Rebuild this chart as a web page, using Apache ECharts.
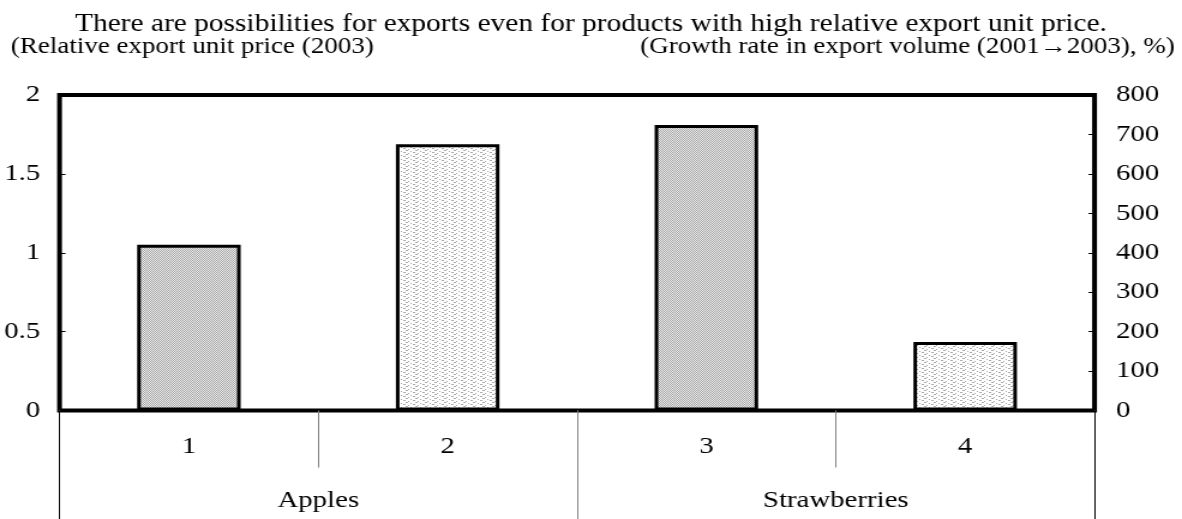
<!DOCTYPE html>
<html>
<head>
<meta charset="utf-8">
<script src="https://cdn.jsdelivr.net/npm/echarts@6/dist/echarts.min.js"></script>
<style>
html, body { margin: 0; padding: 0; background: #fff; overflow: hidden; }
/* the source picture is a bit wider than tall, so draw narrow and stretch */
#main { width: 985px; height: 519px; transform: scaleX(1.2); transform-origin: 0 0; }
</style>
</head>
<body>
<div id="main"></div>
<script>
// data
var items = ['1', '2', '3', '4'];
var groups = ['Apples', 'Strawberries'];
var unitPrice = [1.05, '-', 1.81, '-'];
var growthRate = ['-', 675, '-', 174];

var font = '"Liberation Serif", "Times New Roman", serif';

// dense dotted fill
function densePattern() {
	var c = document.createElement('canvas');
	c.width = 4; c.height = 4;
	var ctx = c.getContext('2d');
	ctx.fillStyle = '#ececec';
	ctx.fillRect(0, 0, 4, 4);
	ctx.fillStyle = '#a4a4a4';
	for (var y = 0; y < 4; y++) {
		for (var x = 0; x < 4; x++) {
			if ((x + y) % 2 === 0) ctx.fillRect(x, y, 1, 1);
		}
	}
	return c;
}

// sparse dotted fill
function sparsePattern() {
	var c = document.createElement('canvas');
	c.width = 8; c.height = 4;
	var ctx = c.getContext('2d');
	ctx.fillStyle = '#ffffff';
	ctx.fillRect(0, 0, 8, 4);
	ctx.fillStyle = '#a8a8a8';
	ctx.fillRect(0, 0, 2, 1);
	ctx.fillRect(4, 1, 1, 1);
	ctx.fillRect(2, 2, 2, 1);
	ctx.fillRect(6, 3, 1, 1);
	return c;
}

var chart = echarts.init(document.getElementById('main'));

var option = {
	backgroundColor: '#fff',
	animation: false,
	title: [{
		text: 'There are possibilities for exports even for products with high relative export unit price.',
		left: 'center',
		top: 7,
		textStyle: { fontFamily: font, fontSize: 24.5, fontWeight: 'normal', color: '#000' }
	}, {
		text: '(Relative export unit price (2003)',
		left: 4,
		top: 31,
		textStyle: { fontFamily: font, fontSize: 22.5, fontWeight: 'normal', color: '#000' }
	}, {
		text: '(Growth rate in export volume (2001\u21922003), %)',
		right: 1,
		top: 31,
		textStyle: { fontFamily: font, fontSize: 22.5, fontWeight: 'normal', color: '#000' }
	}],
	grid: {
		left: 49.6,
		right: 72.9,
		top: 95,
		bottom: 108.5,
		show: true,
		borderColor: '#000',
		borderWidth: 4,
		backgroundColor: 'transparent'
	},
	xAxis: [{
		type: 'category',
		data: items,
		position: 'bottom',
		axisLine: { show: false },
		axisTick: { show: true, length: 57, lineStyle: { color: '#808080', width: 1 } },
		axisLabel: { margin: 24, fontFamily: font, fontSize: 24, color: '#000' }
	}, {
		type: 'category',
		data: groups,
		position: 'bottom',
		axisLine: { show: false },
		axisTick: { show: true, length: 110, lineStyle: { color: '#808080', width: 1 } },
		axisLabel: { margin: 78, fontFamily: font, fontSize: 24, color: '#000' }
	}, {
		type: 'category',
		data: groups,
		position: 'bottom',
		axisLine: { show: false },
		axisTick: {
			show: true, length: 110,
			interval: function (i) { return i === 1; },
			lineStyle: { color: '#000', width: 1 }
		},
		axisLabel: { show: false }
	}],
	yAxis: [{
		type: 'value',
		min: 0, max: 2, interval: 0.5,
		position: 'left',
		axisLine: { show: false },
		axisTick: { show: true, inside: true, length: 5, lineStyle: { color: '#000' } },
		splitLine: { show: false },
		axisLabel: { margin: 16, fontFamily: font, fontSize: 24, color: '#000' }
	}, {
		type: 'value',
		min: 0, max: 800, interval: 100,
		position: 'right',
		axisLine: { show: false },
		axisTick: { show: true, inside: true, length: 5, lineStyle: { color: '#000' } },
		splitLine: { show: false },
		axisLabel: { margin: 18, fontFamily: font, fontSize: 24, color: '#000' }
	}],
	series: [{
		name: 'Relative export unit price',
		type: 'bar',
		xAxisIndex: 0,
		yAxisIndex: 0,
		barWidth: '40%',
		barGap: '-100%',
		data: unitPrice,
		itemStyle: {
			color: { image: densePattern(), repeat: 'repeat' },
			borderColor: '#000',
			borderWidth: 3
		}
	}, {
		name: 'Growth rate in export volume',
		type: 'bar',
		xAxisIndex: 0,
		yAxisIndex: 1,
		barWidth: '40%',
		barGap: '-100%',
		data: growthRate,
		itemStyle: {
			color: { image: sparsePattern(), repeat: 'repeat' },
			borderColor: '#000',
			borderWidth: 3
		}
	}]
};

chart.setOption(option);
</script>
</body>
</html>
